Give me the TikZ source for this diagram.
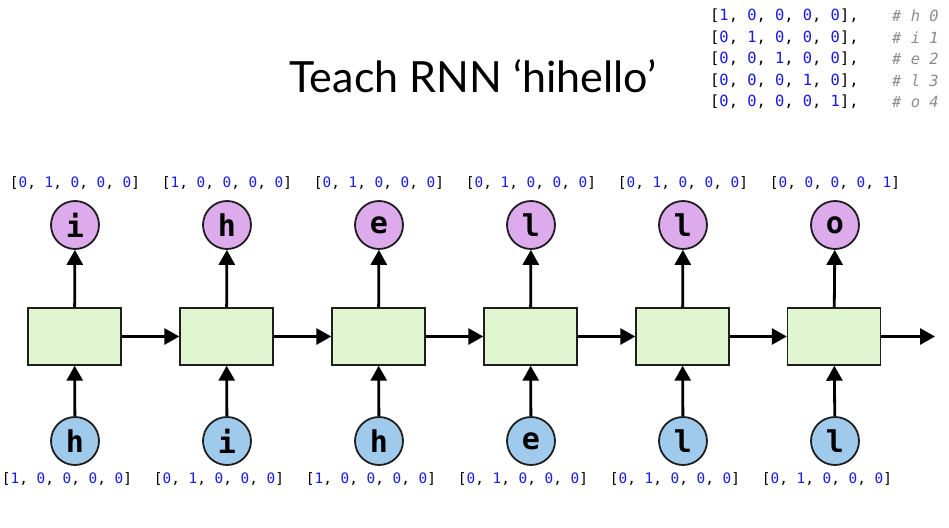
\documentclass[tikz,border=0pt]{standalone}
\usepackage{fontspec}
\setmainfont{Lato}
\setmonofont{DejaVu Sans Mono}
\usetikzlibrary{arrows.meta}

\definecolor{outfill}{RGB}{221,170,236}
\definecolor{infill}{RGB}{160,202,236}
\definecolor{cellfill}{RGB}{223,246,208}
\definecolor{digitblue}{RGB}{25,25,230}
\definecolor{commentgray}{RGB}{140,140,140}
\definecolor{edgegray}{RGB}{30,30,30}

\newcommand{\dg}[1]{\textcolor{digitblue}{#1}}
\newcommand{\onehot}[5]{[\dg{#1}, \dg{#2}, \dg{#3}, \dg{#4}, \dg{#5}]}

\tikzset{
    cell/.style={draw=edgegray, line width=1.4pt, fill=cellfill,
        minimum width=93pt, minimum height=57pt, inner sep=0pt},
    outchar/.style={circle, draw=edgegray, line width=1.8pt, fill=outfill,
        minimum size=48pt, inner sep=0pt,
        font=\ttfamily\bfseries\fontsize{30}{30}\selectfont},
    inchar/.style={outchar, fill=infill},
    vec/.style={inner sep=0pt, font=\ttfamily\fontsize{14.4}{16}\selectfont},
    tablerow/.style={anchor=west, inner sep=0pt,
        font=\ttfamily\fontsize{15.4}{17}\selectfont},
    tablenote/.style={tablerow, text=commentgray,
        font=\ttfamily\itshape\fontsize{15.4}{17}\selectfont},
    flow/.style={line width=2.8pt, -{Triangle[length=15pt, width=16pt]}},
}

\begin{document}
\begin{tikzpicture}[x=1pt, y=-1pt]
        \useasboundingbox[fill=white] (0,0) rectangle (949,527);

        % title and one-hot table
        \node[font=\fontsize{43}{46}\selectfont] (title) at (473, 76) {Teach RNN ‘hihello’};
        \node[tablerow] (m1) at (710, 16)    {\onehot{1}{0}{0}{0}{0},};
        \node[tablerow] (m2) at (710, 37.5)  {\onehot{0}{1}{0}{0}{0},};
        \node[tablerow] (m3) at (710, 59)    {\onehot{0}{0}{1}{0}{0},};
        \node[tablerow] (m4) at (710, 80.5)  {\onehot{0}{0}{0}{1}{0},};
        \node[tablerow] (m5) at (710, 102)   {\onehot{0}{0}{0}{0}{1},};
        \node[tablenote] (k1) at (892, 16)   {\# h 0};
        \node[tablenote] (k2) at (892, 37.5) {\# i 1};
        \node[tablenote] (k3) at (892, 59)   {\# e 2};
        \node[tablenote] (k4) at (892, 80.5) {\# l 3};
        \node[tablenote] (k5) at (892, 102)  {\# o 4};

        % outputs
        \node[vec] (ly1) at (75, 183)  {\onehot{0}{1}{0}{0}{0}};
        \node[vec] (ly2) at (227, 183) {\onehot{1}{0}{0}{0}{0}};
        \node[vec] (ly3) at (379, 183) {\onehot{0}{1}{0}{0}{0}};
        \node[vec] (ly4) at (531, 183) {\onehot{0}{1}{0}{0}{0}};
        \node[vec] (ly5) at (683, 183) {\onehot{0}{1}{0}{0}{0}};
        \node[vec] (ly6) at (835, 183) {\onehot{0}{0}{0}{0}{1}};
        \node[outchar] (o1) at (75, 225)  {i};
        \node[outchar] (o2) at (227, 225) {h};
        \node[outchar] (o3) at (379, 225) {e};
        \node[outchar] (o4) at (531, 225) {l};
        \node[outchar] (o5) at (683, 225) {l};
        \node[outchar] (o6) at (835, 225) {o};

        % cells
        \node[cell] (c1) at (74.5, 336.5)  {};
        \node[cell] (c2) at (226.5, 336.5) {};
        \node[cell] (c3) at (378.5, 336.5) {};
        \node[cell] (c4) at (530.5, 336.5) {};
        \node[cell] (c5) at (682.5, 336.5) {};
        \node[cell] (c6) at (834, 336.5)   {};
        \coordinate (end) at (935, 336.5);

        % inputs
        \node[inchar] (x1) at (75, 441)  {h};
        \node[inchar] (x2) at (227, 441) {i};
        \node[inchar] (x3) at (379, 441) {h};
        \node[inchar] (x4) at (531, 441) {e};
        \node[inchar] (x5) at (683, 441) {l};
        \node[inchar] (x6) at (835, 441) {l};
        \node[vec] (lx1) at (67, 479)  {\onehot{1}{0}{0}{0}{0}};
        \node[vec] (lx2) at (219, 479) {\onehot{0}{1}{0}{0}{0}};
        \node[vec] (lx3) at (371, 479) {\onehot{1}{0}{0}{0}{0}};
        \node[vec] (lx4) at (523, 479) {\onehot{0}{1}{0}{0}{0}};
        \node[vec] (lx5) at (675, 479) {\onehot{0}{1}{0}{0}{0}};
        \node[vec] (lx6) at (827, 479) {\onehot{0}{1}{0}{0}{0}};

        % connections
        \draw[flow] (x1) -- (c1);
        \draw[flow] (x2) -- (c2);
        \draw[flow] (x3) -- (c3);
        \draw[flow] (x4) -- (c4);
        \draw[flow] (x5) -- (c5);
        \draw[flow] (x6) -- (c6);
        \draw[flow] (c1) -- (o1);
        \draw[flow] (c2) -- (o2);
        \draw[flow] (c3) -- (o3);
        \draw[flow] (c4) -- (o4);
        \draw[flow] (c5) -- (o5);
        \draw[flow] (c6) -- (o6);
        \draw[flow] (c1) -- (c2);
        \draw[flow] (c2) -- (c3);
        \draw[flow] (c3) -- (c4);
        \draw[flow] (c4) -- (c5);
        \draw[flow] (c5) -- (c6);
        \draw[flow] (c6) -- (end);
\end{tikzpicture}
\end{document}
